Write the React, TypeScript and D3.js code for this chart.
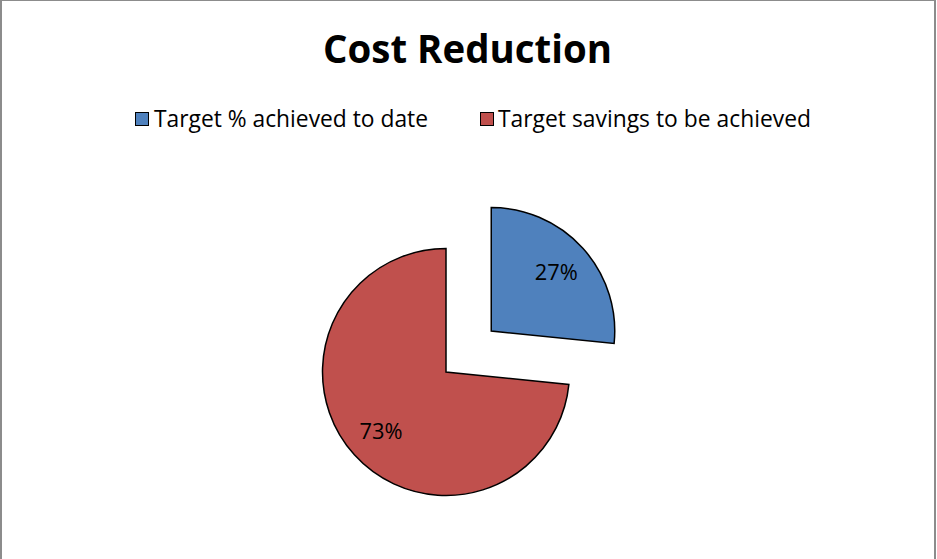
import React from "react";
import * as d3 from "d3";

const categories = ["Target % achieved to date", "Target savings to be achieved"];
const values = [26.6, 73.4];
const colors = ["#4F81BD", "#C0504D"];
const title = "Cost Reduction";

const W = 937;
const H = 559;
const cx = 446;
const cy = 372;
const R = 123.5;
const explode = 61;

export default function App() {
  const total = d3.sum(values);
  const pie = d3.pie<number>().value((d) => d).sort(null)(values);
  const arc = d3.arc<d3.PieArcDatum<number>>().innerRadius(0).outerRadius(R);
  const labelArc = d3.arc<d3.PieArcDatum<number>>().innerRadius(R * 0.71).outerRadius(R * 0.71);
  const fmt = d3.format(".0%");
  const font = "'Open Sans', 'Liberation Sans', sans-serif";

  const legendSq = [135.5, 480.5];
  const legendTx = [154, 498];
  const legendW = [274, 313];
  const labelFs = 22;

  return (
    <svg
      width={W}
      height={H}
      style={{ position: "absolute", left: 0, top: 0, background: "#fff" }}
      fontFamily={font}
    >
      <rect x={1} y={0} width={934} height={H + 4} fill="#fff" stroke="#8c8c8c" strokeWidth={2} />
      <text x={323} y={63} fontSize={39} fontWeight="bold" fill="#000" textLength={289} lengthAdjust="spacingAndGlyphs">
        {title}
      </text>
      {categories.map((c, i) => (
        <g key={c}>
          <rect x={legendSq[i]} y={112.5} width={13} height={13} fill={colors[i]} stroke="#000" strokeWidth={1} />
          <text
            x={legendTx[i]}
            y={126.5}
            fontSize={23}
            fill="#000"
            textLength={legendW[i]}
            lengthAdjust="spacingAndGlyphs"
          >
            {c}
          </text>
        </g>
      ))}
      {pie.map((p, i) => {
        const mid = (p.startAngle + p.endAngle) / 2;
        const off = i === 0 ? explode : 0;
        const dx = Math.sin(mid) * off;
        const dy = -Math.cos(mid) * off;
        const [lx, ly] = labelArc.centroid(p);
        return (
          <g key={i} transform={`translate(${cx + dx},${cy + dy})`}>
            <path d={arc(p) || ""} fill={colors[i]} stroke="#000" strokeWidth={1.5} strokeLinejoin="miter" />
            <text
              x={lx}
              y={ly + labelFs * 0.36}
              textAnchor="middle"
              fontSize={labelFs}
              fill="#000"
              textLength={43}
              lengthAdjust="spacingAndGlyphs"
            >
              {fmt(p.data / total)}
            </text>
          </g>
        );
      })}
    </svg>
  );
}
